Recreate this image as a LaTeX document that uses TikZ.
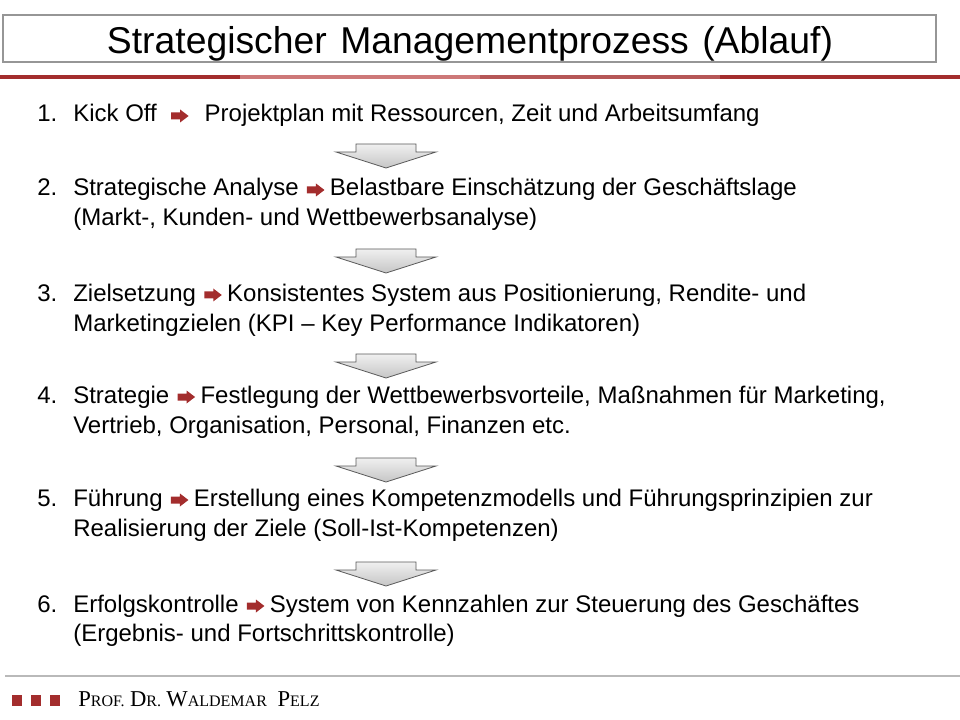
\documentclass[tikz,border=0pt]{standalone}
\usepackage{fontspec}
\setmainfont{Liberation Sans}
\newfontfamily\footfont{Liberation Serif}
\usepackage{tikz}
\usetikzlibrary{calc, positioning}
\definecolor{darkred}{RGB}{163, 45, 45}
\definecolor{lightred}{RGB}{205, 120, 120}
\definecolor{boxgray}{RGB}{150, 150, 150}

\newcommand{\fakesc}[2]{{\fontsize{17}{19}\selectfont #1}{\fontsize{12}{14}\selectfont #2}}

\tikzset{
	itemtext/.style={font=\fontsize{18}{22}\selectfont, inner sep=0pt, anchor=base west, text height=13pt, text depth=4pt},
	redarrow/.pic={\fill[darkred] (0,-3.5)--(9,-3.5)--(9,-6.5)--(17.5,0)--(9,6.5)--(9,3.5)--(0,3.5)--cycle;},
	downarrow/.pic={\draw[black!65, top color=gray!12, bottom color=gray!45, line width=0.6pt]
		(-30,0)--(30,0)--(30,8)--(50,8)--(0,24)--(-50,8)--(-30,8)--cycle;}
}

\begin{document}
\begin{tikzpicture}[x=0.75pt, y=-0.75pt]
	\useasboundingbox (0,0) rectangle (960,720);

	% title box
	\draw[boxgray, line width=0.8pt] (3,15) rectangle (936,62);
	\node[font=\fontsize{28}{32}\selectfont, inner sep=0pt, anchor=base] (title) at (470,54)
		{Strategischer\hspace{0.36em}Managementprozess\hspace{0.36em}(Ablauf)};

	% red rule under the title
	\draw[darkred, line width=2.3pt] (0,77) -- (960,77);
	\draw[lightred, line width=2.3pt] (240,77) -- (480,77);
	\draw[darkred!80, line width=2.3pt] (480,77) -- (720,77);

	% 1. Kick Off
	\node[itemtext] (n1) at (37,122) {1.};
	\node[itemtext] (k1) at (73,122) {Kick Off};
	\coordinate[right=10.5pt of k1] (a1);
	\pic at (a1) {redarrow};
	\node[itemtext, right=25pt of a1] (r1) {Projektplan mit Ressourcen, Zeit und Arbeitsumfang};

	\pic at (386,144) {downarrow};

	% 2. Strategische Analyse
	\node[itemtext] (n2) at (37,196) {2.};
	\node[itemtext] (k2) at (73,196) {Strategische Analyse};
	\coordinate[right=6pt of k2] (a2);
	\pic at (a2) {redarrow};
	\node[itemtext, right=17pt of a2] (r2) {Belastbare Einschätzung der Geschäftslage};
	\node[itemtext] (s2) at (73,226) {(Markt-, Kunden- und Wettbewerbsanalyse)};

	\pic at (386,249) {downarrow};

	% 3. Zielsetzung
	\node[itemtext] (n3) at (37,301) {3.};
	\node[itemtext] (k3) at (73,301) {Zielsetzung};
	\coordinate[right=6pt of k3] (a3);
	\pic at (a3) {redarrow};
	\node[itemtext, right=17pt of a3] (r3) {Konsistentes System aus Positionierung, Rendite- und};
	\node[itemtext] (s3) at (73,331) {Marketingzielen (KPI – Key Performance Indikatoren)};

	\pic at (386,354) {downarrow};

	% 4. Strategie
	\node[itemtext] (n4) at (37,403) {4.};
	\node[itemtext] (k4) at (73,403) {Strategie};
	\coordinate[right=6pt of k4] (a4);
	\pic at (a4) {redarrow};
	\node[itemtext, right=17pt of a4] (r4) {Festlegung der Wettbewerbsvorteile, Maßnahmen für Marketing,};
	\node[itemtext] (s4) at (73,433) {Vertrieb, Organisation, Personal, Finanzen etc.};

	\pic at (386,458) {downarrow};

	% 5. Fuehrung
	\node[itemtext] (n5) at (37,506) {5.};
	\node[itemtext] (k5) at (73,506) {Führung};
	\coordinate[right=6pt of k5] (a5);
	\pic at (a5) {redarrow};
	\node[itemtext, right=17pt of a5] (r5) {Erstellung eines Kompetenzmodells und Führungsprinzipien zur};
	\node[itemtext] (s5) at (73,536) {Realisierung der Ziele (Soll-Ist-Kompetenzen)};

	\pic at (386,562) {downarrow};

	% 6. Erfolgskontrolle
	\node[itemtext] (n6) at (37,612) {6.};
	\node[itemtext] (k6) at (73,612) {Erfolgskontrolle};
	\coordinate[right=6pt of k6] (a6);
	\pic at (a6) {redarrow};
	\node[itemtext, right=17pt of a6] (r6) {System von Kennzahlen zur Steuerung des Geschäftes};
	\node[itemtext] (s6) at (73,641) {(Ergebnis- und Fortschrittskontrolle)};

	% footer
	\draw[gray!55, line width=1.2pt] (5,676) -- (960,676);
	\foreach \sx in {12,31,50}
		\fill[darkred] (\sx,695) rectangle ++(10,11);
	\node[anchor=base west, inner sep=0pt, font=\footfont\fontsize{16}{18}\selectfont] (author) at (78,706)
		{\fakesc{P}{ROF.} \fakesc{D}{R.} \fakesc{W}{ALDEMAR}\ \ \fakesc{P}{ELZ}};
	%%%%%%%%%%%%%%%%%%%%%%%%%%%%%
\end{tikzpicture}
\end{document}
